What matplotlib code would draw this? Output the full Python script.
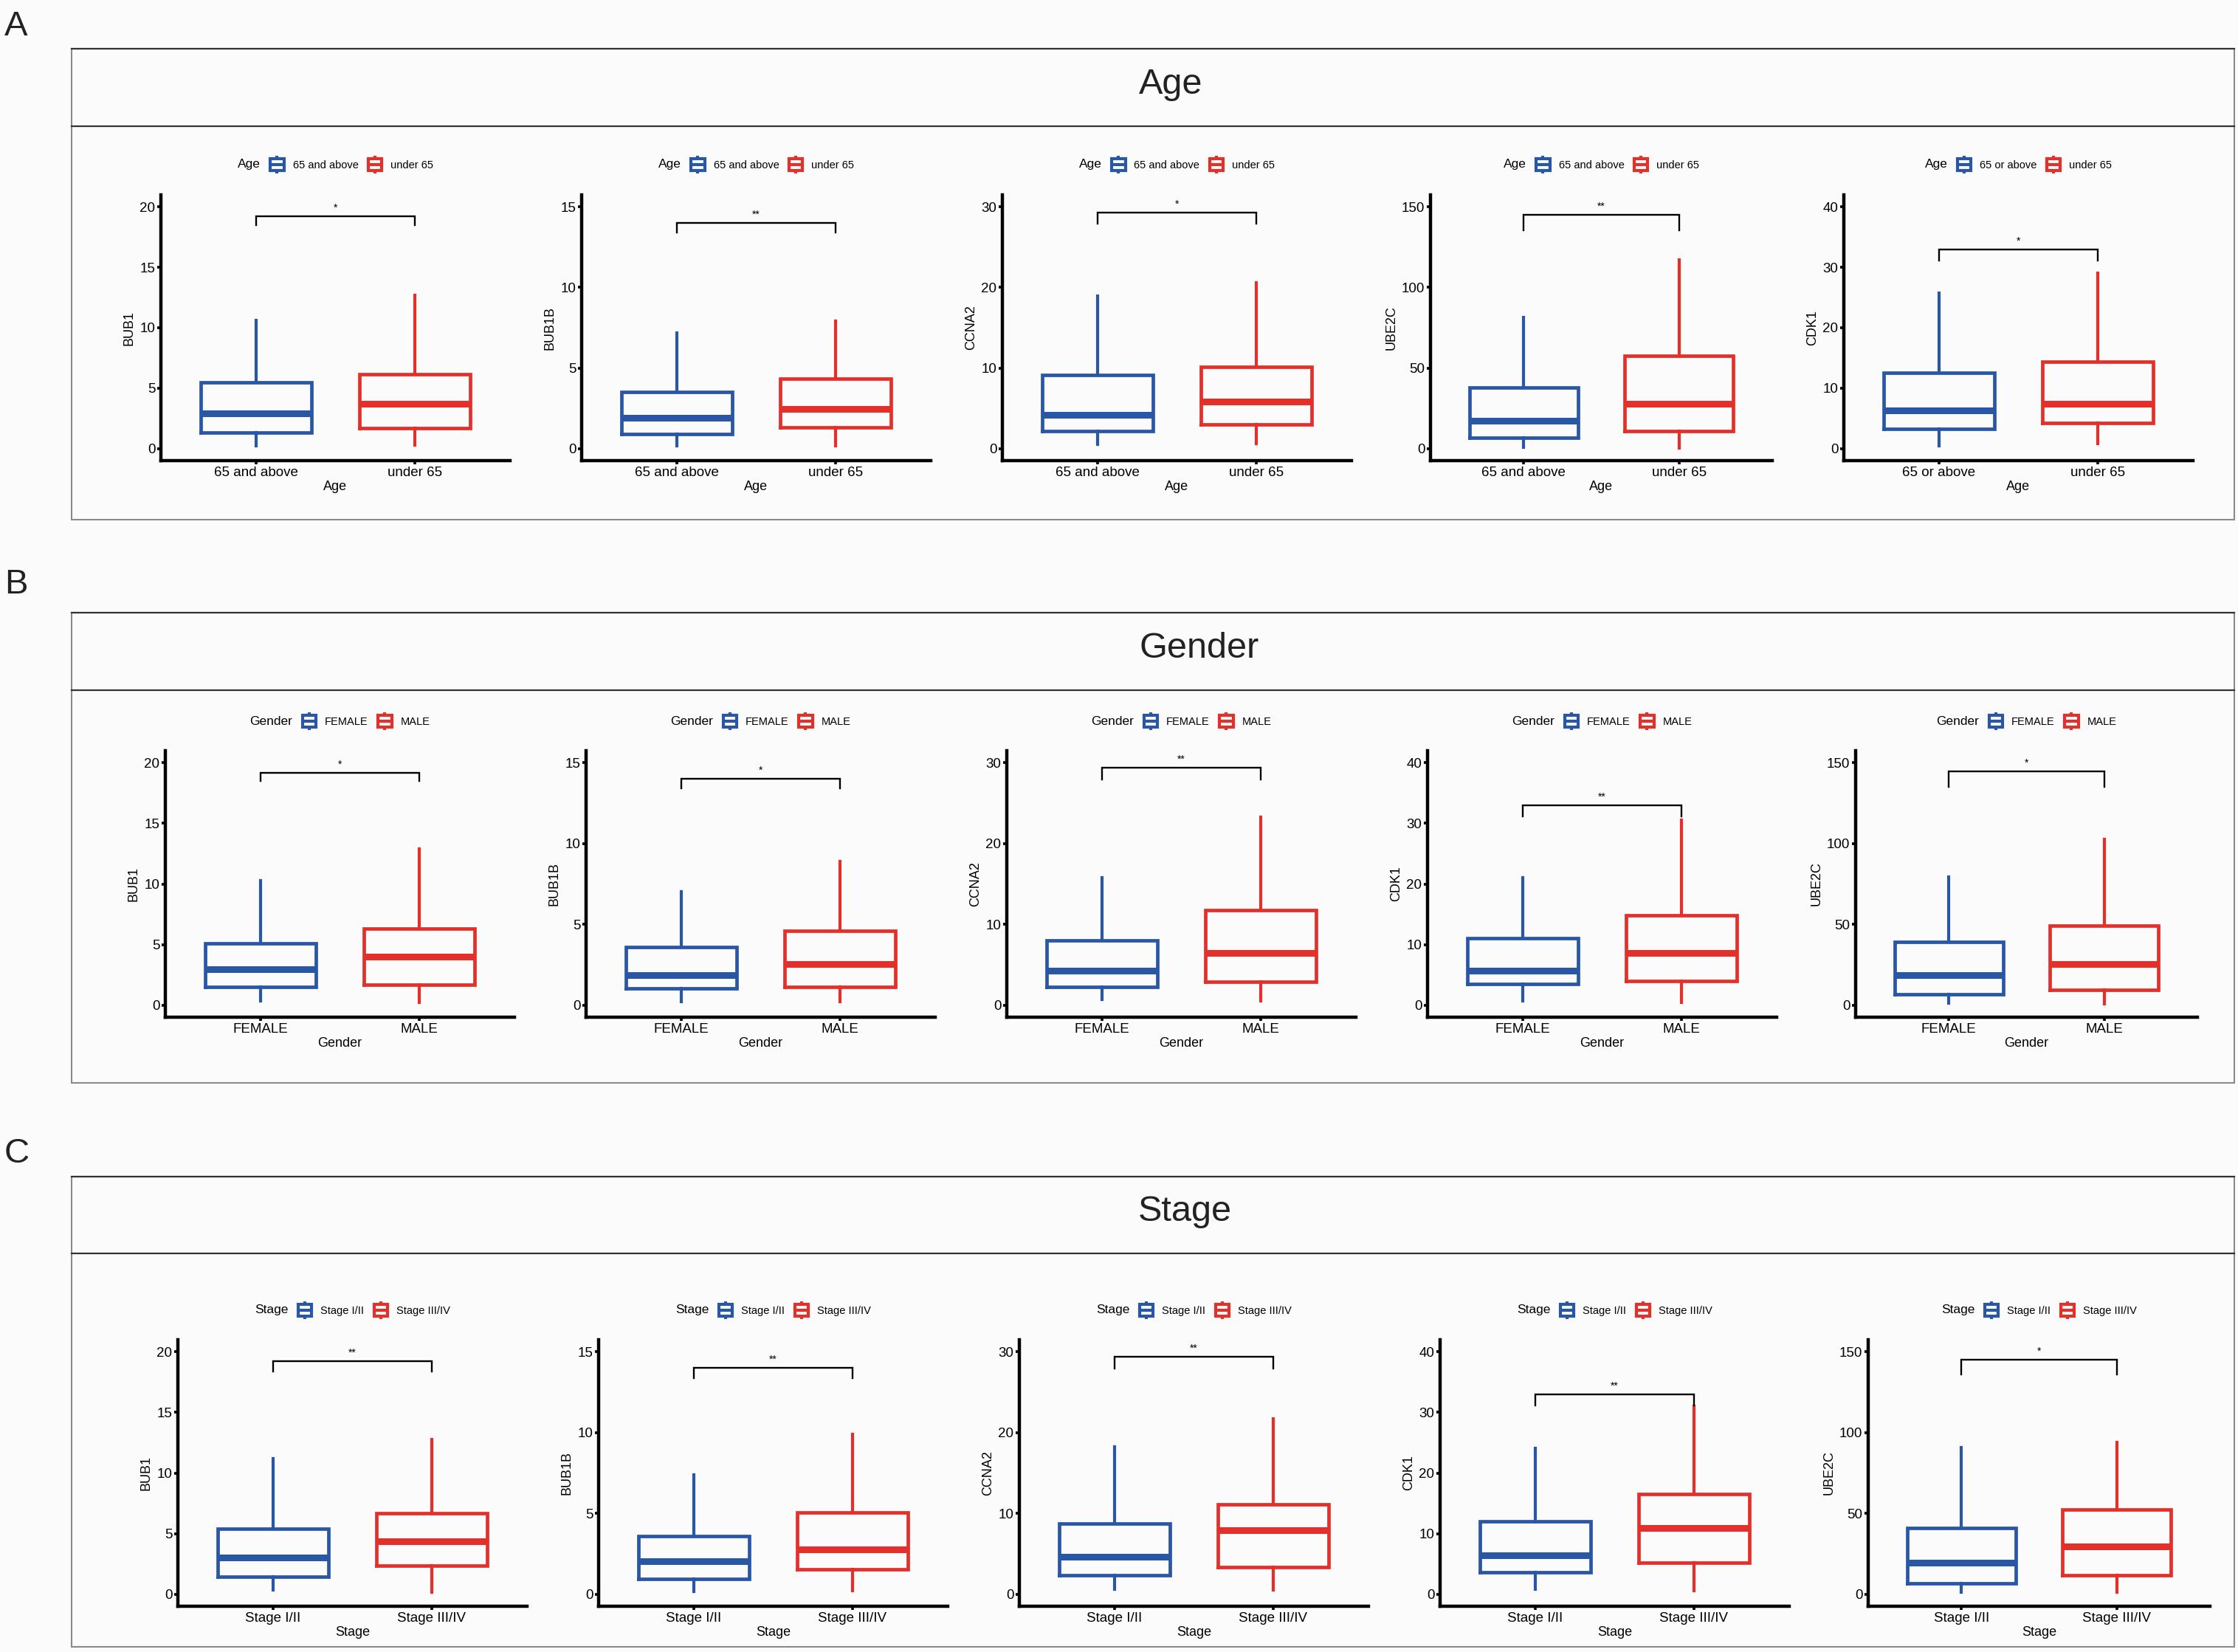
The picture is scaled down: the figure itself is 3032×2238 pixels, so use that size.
import numpy as np
import matplotlib
matplotlib.use('Agg')
import matplotlib.pyplot as plt
from matplotlib.patches import Rectangle
from matplotlib.lines import Line2D
from matplotlib.legend_handler import HandlerBase

plt.rcParams['font.family'] = ['Liberation Sans', 'DejaVu Sans']

BLUE = '#2A56A6'
RED = '#E4302A'
W, H = 3032, 2238

# ---- data ----
age_genes = ['BUB1', 'BUB1B', 'CCNA2', 'UBE2C', 'CDK1']
age_groups = [['65 and above', 'under 65']] * 4 + [['65 or above', 'under 65']]
age_lo = [[0.22, 0.30], [0.18, 0.15], [0.52, 0.61], [0.8, 0.5], [0.45, 0.85]]
age_q1 = [[1.31, 1.70], [0.92, 1.30], [2.14, 2.96], [6.5, 10.7], [3.25, 4.19]]
age_med = [[2.94, 3.72], [1.91, 2.47], [4.20, 5.86], [17.2, 27.9], [6.34, 7.36]]
age_q3 = [[5.45, 6.15], [3.50, 4.35], [9.16, 10.1], [37.8, 57.6], [12.5, 14.35]]
age_hi = [[10.6, 12.7], [7.18, 7.92], [18.9, 20.6], [81.5, 117.3], [25.7, 29.0]]
age_ymax = [20, 15, 30, 150, 40]
age_br = [19.25, 14.03, 29.3, 145.1, 33.0]
age_br_lo = [18.5, 13.39, 27.9, 135.5, 31.1]
age_sig = ['*', '**', '*', '**', '*']

gender_genes = ['BUB1', 'BUB1B', 'CCNA2', 'CDK1', 'UBE2C']
gender_groups = [['FEMALE', 'MALE']] * 5
gender_lo = [[0.35, 0.19], [0.20, 0.23], [0.70, 0.52], [0.73, 0.45], [1.2, 0.8]]
gender_q1 = [[1.49, 1.66], [1.02, 1.11], [2.28, 2.89], [3.52, 3.97], [6.8, 9.6]]
gender_med = [[2.99, 3.97], [1.87, 2.54], [4.23, 6.49], [5.67, 8.59], [18.5, 25.4]]
gender_q3 = [[5.10, 6.33], [3.61, 4.60], [7.98, 11.73], [11.06, 14.87], [39.2, 49.1]]
gender_hi = [[10.27, 12.9], [7.0, 8.88], [15.75, 23.3], [21.0, 30.6], [79.3, 102.6]]
gender_ymax = [20, 15, 30, 40, 150]
gender_br = [19.2, 14.0, 29.4, 33.0, 144.8]
gender_br_lo = [18.5, 13.4, 27.9, 31.1, 135.3]
gender_sig = ['*', '*', '**', '**', '*']

stage_genes = ['BUB1', 'BUB1B', 'CCNA2', 'CDK1', 'UBE2C']
stage_groups = [['Stage I/II', 'Stage III/IV']] * 5
stage_lo = [[0.32, 0.18], [0.15, 0.23], [0.61, 0.49], [0.81, 0.57], [1.0, 1.0]]
stage_q1 = [[1.45, 2.37], [0.96, 1.54], [2.32, 3.39], [3.60, 5.14], [6.7, 11.7]]
stage_med = [[3.03, 4.35], [2.03, 2.79], [4.67, 7.87], [6.43, 10.92], [19.6, 29.6]]
stage_q3 = [[5.40, 6.69], [3.59, 5.05], [8.73, 11.08], [12.0, 16.55], [40.9, 52.4]]
stage_hi = [[11.17, 12.75], [7.4, 9.92], [18.25, 21.76], [24.07, 31.0], [90.9, 93.9]]
stage_ymax = [20, 15, 30, 40, 150]
stage_br = [19.24, 14.0, 29.4, 32.97, 145.1]
stage_br_lo = [18.4, 13.37, 27.9, 31.1, 135.8]
stage_sig = ['**', '**', '**', '**', '*']

ytick_step = {15: 5, 20: 5, 30: 10, 40: 10, 150: 50}

rows = [
    ('Age', age_genes, age_groups, age_lo, age_q1, age_med, age_q3, age_hi, age_ymax, age_br, age_br_lo, age_sig),
    ('Gender', gender_genes, gender_groups, gender_lo, gender_q1, gender_med, gender_q3, gender_hi, gender_ymax, gender_br, gender_br_lo, gender_sig),
    ('Stage', stage_genes, stage_groups, stage_lo, stage_q1, stage_med, stage_q3, stage_hi, stage_ymax, stage_br, stage_br_lo, stage_sig),
]

# ---- layout (pixels of the target image) ----
sec_top = [66, 830, 1594]
sec_bot = [704, 1467, 2231]
strip_bot = [171, 935, 1698]
title_x = [1586, 1625, 1605]
letter_top = [14, 770, 1541]
ax_top = [264, 1017, 1815]
ax_bot = [624, 1378, 2176]
ax_right0 = [691, 697, 714]
leg_y = [223, 977, 1775]
pitch = 570


def fx(px):
    return px / W


def fy(py):
    return 1 - py / H


class BoxKey(HandlerBase):
    # small boxplot glyph for the legend keys
    def create_artists(self, legend, orig_handle, xdescent, ydescent, width, height, fontsize, trans):
        c = orig_handle.get_color()
        x0, y0 = -xdescent, -ydescent
        lw = 3.0
        wl = Line2D([x0 + width / 2] * 2, [y0 - 0.02 * height, y0 + 0.15 * height], color=c, lw=lw,
                    solid_capstyle='butt', transform=trans)
        wh = Line2D([x0 + width / 2] * 2, [y0 + 0.85 * height, y0 + 1.02 * height], color=c, lw=lw,
                    solid_capstyle='butt', transform=trans)
        box = Rectangle((x0 + 0.08 * width, y0 + 0.15 * height), 0.84 * width, 0.7 * height,
                        facecolor='white', edgecolor=c, lw=lw, joinstyle='miter', transform=trans)
        med = Line2D([x0 + 0.08 * width, x0 + 0.92 * width], [y0 + 0.5 * height] * 2, color=c, lw=lw,
                     solid_capstyle='butt', transform=trans)
        return [wl, wh, box, med]


fig = plt.figure(figsize=(W / 100, H / 100), dpi=100, facecolor='#fbfbfb')

for r, (name, genes, groups, lo, q1, med, q3, hi, ymax, br, br_lo, sig) in enumerate(rows):
    # section frame and strip
    fig.add_artist(Rectangle((fx(97), fy(sec_bot[r])), fx(3027) - fx(97), fy(sec_top[r]) - fy(sec_bot[r]),
                             transform=fig.transFigure, fill=False, edgecolor='#8a8a8a', lw=1.5))
    fig.add_artist(Line2D([fx(97), fx(3027)], [fy(sec_top[r])] * 2, transform=fig.transFigure, color='#333333', lw=1.6))
    fig.add_artist(Line2D([fx(97), fx(3027)], [fy(strip_bot[r])] * 2, transform=fig.transFigure, color='#333333', lw=1.6))
    fig.text(fx(title_x[r]), fy((sec_top[r] + strip_bot[r]) / 2) + 0.002, name, fontsize=35, ha='center', va='center', color='#222222')
    fig.text(fx(6), fy(letter_top[r]), 'ABC'[r], fontsize=34, ha='left', va='top', color='#222222')

    for i in range(5):
        right = ax_right0[r] + pitch * i
        width = 463 if ymax[i] >= 100 else 473
        left = right - width
        ax = fig.add_axes([fx(left), fy(ax_bot[r]), fx(width), fy(ax_top[r]) - fy(ax_bot[r])])
        ax.set_facecolor('none')
        for g, col in enumerate([BLUE, RED]):
            st = [dict(med=med[i][g], q1=q1[i][g], q3=q3[i][g], whislo=lo[i][g], whishi=hi[i][g])]
            ax.bxp(st, positions=[g + 1], widths=0.7, showcaps=False, showfliers=False,
                   boxprops=dict(color=col, lw=3.4, solid_joinstyle='miter'),
                   whiskerprops=dict(color=col, lw=3.0),
                   medianprops=dict(color=col, lw=6.5, solid_capstyle='butt'))
        # significance bracket
        ax.plot([1, 1, 2, 2], [br_lo[i], br[i], br[i], br_lo[i]], color='black', lw=1.7, solid_joinstyle='miter')
        ax.annotate(sig[i], (1.5, br[i]), xytext=(0, 3), textcoords='offset points',
                    ha='center', va='bottom', fontsize=10)

        M = ymax[i]
        ax.set_xlim(0.4, 2.6)
        ax.set_ylim(-0.05 * M, 1.05 * M)
        ax.set_yticks(np.arange(0, M + 1, ytick_step[M]))
        ax.set_xticks([1, 2])
        ax.set_xticklabels(groups[i])
        ax.set_xlabel(name, fontsize=13, labelpad=2)
        ax.set_ylabel(genes[i], fontsize=13, labelpad=4)
        for s in ['top', 'right']:
            ax.spines[s].set_visible(False)
        for s in ['left', 'bottom']:
            ax.spines[s].set_linewidth(3.2)
        ax.tick_params(axis='both', direction='out', length=3.5, width=2.6, labelsize=13.5, pad=2, colors='black')

        handles = [Line2D([], [], color=BLUE), Line2D([], [], color=RED)]
        cx = (left + right) / 2
        leg = ax.legend(handles, groups[i], title=name, ncol=2, loc='center',
                        bbox_to_anchor=(fx(cx), fy(leg_y[r])), bbox_transform=fig.transFigure,
                        frameon=False, fontsize=10.5, title_fontsize=12.5,
                        handler_map={Line2D: BoxKey()}, handlelength=1.5, handleheight=2.0,
                        handletextpad=0.7, columnspacing=0.8)
        # put the legend title to the left of the keys, like ggplot
        vp = leg._legend_box
        title_box, handle_box = vp.get_children()
        vp._children = [handle_box]
        handle_box._children.insert(0, title_box)
        handle_box.align = 'center'

fig.savefig('out.png', dpi=100, facecolor=fig.get_facecolor())
